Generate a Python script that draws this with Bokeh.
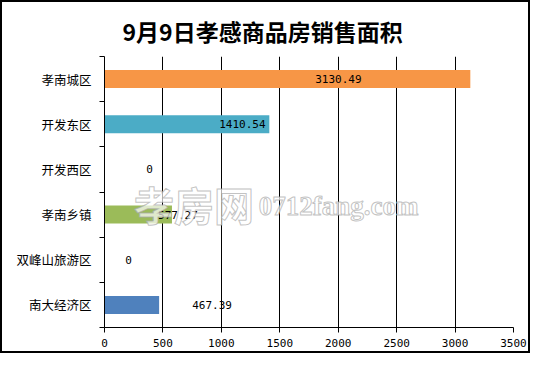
from bokeh.plotting import figure
from bokeh.models import Range1d, FixedTicker, ColumnDataSource
from bokeh.core.properties import value
from bokeh.embed import file_html
from bokeh.resources import INLINE

# ---- data ----
categories = ["孝南城区", "开发东区", "开发西区", "孝南乡镇", "双峰山旅游区", "南大经济区"]
areas = [3130.49, 1410.54, 0, 577.27, 0, 467.39]
x_ticks = [0, 500, 1000, 1500, 2000, 2500, 3000, 3500]
title_text = "9月9日孝感商品房销售面积"

# ---- style ----
bar_colors = ["#F79646", "#4BACC6", "#8064A2", "#9BBB59", "#C0504D", "#4F81BD"]
label_dx = [-132, -27, 45, 6, 24, 53]   # pixel offsets of value labels from bar ends

ys = list(range(len(categories)))
src = ColumnDataSource(dict(
    y=ys, x=areas, color=bar_colors,
    label=[("%.2f" % v) if v else "0" for v in areas],
    dx=label_dx,
))

p = figure(width=530, height=353, output_backend="svg", toolbar_location=None,
           x_range=Range1d(x_ticks[0], x_ticks[-1]),
           y_range=Range1d(len(categories) - 0.5, -0.5),
           min_border_left=102, min_border_right=19,
           min_border_top=54, min_border_bottom=28)
p.styles = {"border": "2px solid black"}
p.outline_line_color = None
p.background_fill_color = "white"
p.border_fill_color = "white"

# title
p.title.text = title_text
p.title.align = "left"
p.title.offset = 18
p.title.text_font = "Noto Sans CJK SC"
p.title.text_font_size = "23px"
p.title.text_font_style = "bold"
p.title.text_color = "black"
p.title.standoff = 17

p.hbar(y="y", left=0, right="x", height=0.4, color="color", line_color=None, source=src)

# value labels
p.text(x="x", y="y", text="label", x_offset="dx", source=src,
       text_align="center", text_baseline="middle",
       text_font=value("DejaVu Sans Mono"), text_font_size="11px", text_color="black")

# watermark
p.text(x=[765], y=[2.76], text=["孝房网"], text_align="center", text_baseline="middle",
       text_font=value("Noto Sans CJK SC"), text_font_size="40px", text_font_style="bold",
       text_color="white", text_alpha=0.7, text_outline_color="#a8a8a8")
p.text(x=[1320], y=[2.8], text=["0712fang.com"], text_align="left", text_baseline="middle",
       text_font=value("Liberation Serif"), text_font_size="27px", text_font_style="bold",
       text_color="white", text_alpha=0.7, text_outline_color="#a8a8a8")

# x axis
xa = p.xaxis[0]
xa.ticker = FixedTicker(ticks=x_ticks)
xa.axis_line_color = "black"
xa.major_tick_line_color = "black"
xa.major_tick_in = 0
xa.major_tick_out = 5
xa.minor_tick_line_color = None
xa.major_label_standoff = 6
xa.major_label_text_font = "DejaVu Sans Mono"
xa.major_label_text_font_size = "11px"
xa.major_label_text_color = "black"

# y axis
ya = p.yaxis[0]
ya.ticker = FixedTicker(ticks=ys, minor_ticks=[i - 0.5 for i in range(len(categories) + 1)])
ya.major_label_overrides = {i: c for i, c in enumerate(categories)}
ya.axis_line_color = "black"
ya.major_tick_line_color = None
ya.major_tick_in = 0
ya.major_tick_out = 0
ya.minor_tick_line_color = "black"
ya.minor_tick_in = 0
ya.minor_tick_out = 5
ya.major_label_standoff = 8
ya.major_label_text_font = "Noto Sans CJK SC"
ya.major_label_text_font_size = "12.5px"
ya.major_label_text_color = "black"

p.xgrid.grid_line_color = "black"
p.xgrid.grid_line_alpha = 1
p.ygrid.grid_line_color = None

open("out.html", "w").write(file_html(p, INLINE))
